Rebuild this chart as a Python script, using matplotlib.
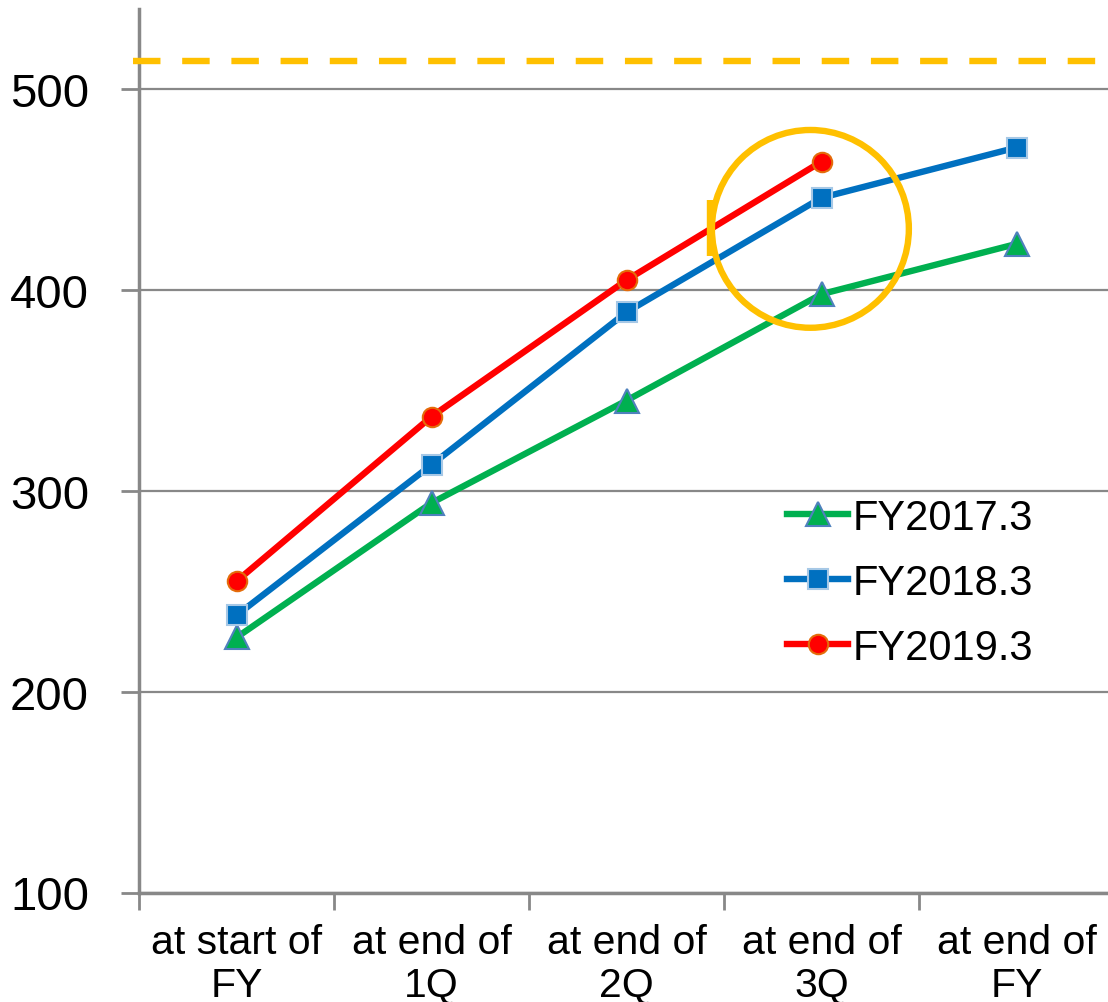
import matplotlib
matplotlib.use("Agg")
import matplotlib.pyplot as plt
from matplotlib.patches import Ellipse
from matplotlib.ticker import FixedLocator

plt.rcParams['font.family'] = ['Liberation Sans', 'DejaVu Sans']

categories = ["at start of\nFY", "at end of\n1Q", "at end of\n2Q", "at end of\n3Q", "at end of\nFY"]
fy2017 = [227, 294, 345, 398, 423]
fy2018 = [238, 313, 389, 446, 471]
fy2019 = [255, 337, 405, 464]
target = 514
yticks = [100, 200, 300, 400, 500]

fig = plt.figure(figsize=(11.08, 10.03), dpi=100)
W, H = 1108, 1003
left, right, top, bottom = 139, 1114, 10, 893.5
ax = fig.add_axes([left / W, 1 - bottom / H, (right - left) / W, (bottom - top) / H])

x = list(range(len(categories)))
grey = "#888888"
lw = 4.6

ax.plot(x, fy2017, color="#00B050", lw=lw, marker="^", ms=17, mfc="#00B050",
        mec="#4F81BD", mew=1.5, label="FY2017.3", zorder=3)
ax.plot(x, fy2018, color="#0070C0", lw=lw, marker="s", ms=14, mfc="#0070C0",
        mec="#A6C8E6", mew=1.5, label="FY2018.3", zorder=3)
ax.plot(x[:len(fy2019)], fy2019, color="#FF0000", lw=lw, marker="o", ms=14, mfc="#FF0000",
        mec="#E46C0A", mew=1.5, label="FY2019.3", zorder=3)

ax.axhline(target, xmin=-0.006, xmax=1, color="#FFC000", lw=lw, ls=(0, (4.3, 3.4)),
           zorder=4, clip_on=False)

ell = Ellipse((2.943, 430.5), 1.01, 98.5, fill=False, ec="#FFC000", lw=lw, zorder=5)
ax.add_patch(ell)
ax.plot([2.43, 2.43], [417, 445], color="#FFC000", lw=lw, zorder=5, solid_capstyle="butt")

ax.set_xlim(-0.5, 4.5)
ax.set_ylim(100, 540)
ax.set_yticks(yticks)
ax.set_yticklabels([str(v) for v in yticks], fontsize=34)
ax.tick_params(axis="y", length=13, width=2, color=grey, pad=23)
ax.yaxis.grid(True, color=grey, lw=1.6)
ax.set_axisbelow(True)

ax.set_xticks(x)
ax.set_xticklabels(categories, fontsize=29.5, linespacing=1.15)
ax.xaxis.set_minor_locator(FixedLocator([-0.5, 0.5, 1.5, 2.5, 3.5]))
ax.tick_params(axis="x", which="major", length=0, pad=22)
ax.tick_params(axis="x", which="minor", length=12, width=2, color=grey)

for s in ["top", "right"]:
    ax.spines[s].set_visible(False)
for s in ["left", "bottom"]:
    ax.spines[s].set_color(grey)
    ax.spines[s].set_linewidth(2.5)

leg = ax.legend(loc="upper left",
                bbox_to_anchor=((799 - left) / (right - left) - 0.012, (bottom - 499) / (bottom - top)),
                frameon=False, fontsize=30, handlelength=1.45, handletextpad=0.12,
                labelspacing=0.6, borderaxespad=0, borderpad=0)

fig.savefig("out.png", dpi=100)
